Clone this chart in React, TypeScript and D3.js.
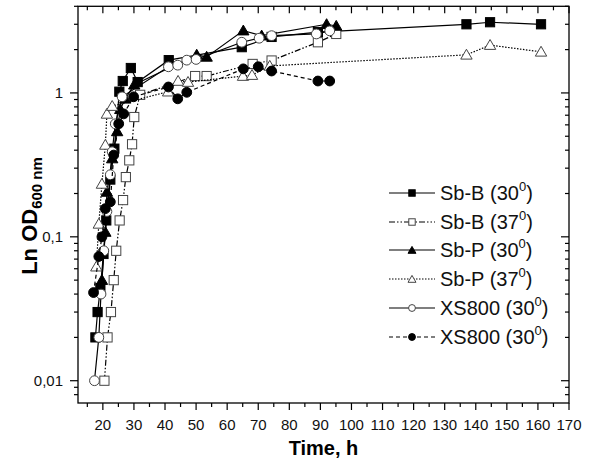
import * as d3 from "d3";

// Time, h
const sbB30T = [17.6, 18.3, 19.2, 20.2, 21.1, 22.4, 23.7, 25.3, 26.4, 29.0, 31.2, 41.2, 64.7, 74.3, 89.2, 137, 144.6, 161];
const sbB30V = [0.02, 0.03, 0.044, 0.076, 0.13, 0.25, 0.41, 1.02, 1.21, 1.49, 1.19, 1.69, 2.08, 2.45, 2.65, 3.0, 3.1, 3.0];

const sbB37T = [20.5, 21.5, 22.6, 23.5, 24.3, 25.4, 26.5, 27.4, 28.5, 29.4, 30.1, 32.0, 49.7, 53.4, 68.2, 74.3, 89.2, 95.1];
const sbB37V = [0.01, 0.02, 0.03, 0.05, 0.08, 0.13, 0.18, 0.26, 0.34, 0.44, 0.68, 0.97, 1.31, 1.31, 1.59, 1.68, 2.25, 2.57];

const sbP30T = [19.7, 20.8, 21.3, 23.0, 24.6, 25.6, 27.2, 30.1, 50.2, 53.4, 65.2, 71.1, 92.0, 95.1];
const sbP30V = [0.05, 0.108, 0.205, 0.35, 0.54, 0.77, 0.91, 1.14, 1.84, 1.78, 2.71, 2.5, 3.0, 2.92];

const sbP37T = [17.9, 18.7, 19.7, 20.8, 21.3, 23.0, 41.0, 44.2, 47.4, 65.1, 68.0, 73.7, 137, 144.6, 161];
const sbP37V = [0.062, 0.123, 0.233, 0.435, 0.715, 0.81, 1.02, 1.21, 1.19, 1.31, 1.33, 1.54, 1.84, 2.15, 1.93];

const xsOpenT = [17.3, 18.7, 19.4, 20.3, 21.3, 22.4, 23.0, 24.0, 26.2, 41.1, 44.1, 47.0, 50.0, 64.7, 70.3, 74.3, 88.7, 93.0];
const xsOpenV = [0.01, 0.02, 0.04, 0.08, 0.15, 0.27, 0.39, 0.61, 0.94, 1.52, 1.56, 1.69, 1.71, 2.25, 2.4, 2.5, 2.57, 2.7];

const xsFillT = [17.0, 18.7, 19.7, 20.8, 22.4, 23.5, 25.1, 26.7, 29.9, 41.1, 44.1, 47.0, 65.2, 70.0, 74.3, 89.2, 93.0];
const xsFillV = [0.041, 0.073, 0.1, 0.157, 0.175, 0.37, 0.61, 0.715, 0.94, 1.1, 0.91, 1.01, 1.47, 1.52, 1.42, 1.21, 1.21];

const xMajor = d3.range(20, 171, 10);
const xMinor = d3.range(15, 170, 10);
const yMajor = [0.01, 0.1, 1];
const yMajorLabels = ["0,01", "0,1", "1"];
const yMinor = [0.008, 0.009, 0.02, 0.03, 0.04, 0.05, 0.06, 0.07, 0.08, 0.09,
  0.2, 0.3, 0.4, 0.5, 0.6, 0.7, 0.8, 0.9, 2, 3, 4];

const legendNames = ["Sb-B (30", "Sb-B (37", "Sb-P (30", "Sb-P (37", "XS800 (30", "XS800 (30"];

const series = [
  { t: sbB30T, v: sbB30V, marker: "square", fill: "#000", dash: null },
  { t: sbB37T, v: sbB37V, marker: "square", fill: "#fff", dash: "6,2,1.5,2,1.5,2" },
  { t: sbP30T, v: sbP30V, marker: "triangle", fill: "#000", dash: null },
  { t: sbP37T, v: sbP37V, marker: "triangle", fill: "#fff", dash: "1.5,1.5" },
  { t: xsOpenT, v: xsOpenV, marker: "circle", fill: "#fff", dash: null },
  { t: xsFillT, v: xsFillV, marker: "circle", fill: "#000", dash: "4,3" },
];

const FONT = "'Liberation Sans', Arial, sans-serif";

function Marker({ kind, x, y, fill, s = 1 }: { kind: string; x: number; y: number; fill: string; s?: number }) {
  const stroke = fill === "#000" ? "#000" : "#444";
  if (kind === "square") {
    const h = 4.6 * s;
    return <rect x={x - h} y={y - h} width={2 * h} height={2 * h} fill={fill} stroke={stroke} strokeWidth={1} />;
  }
  if (kind === "triangle") {
    const path = d3.symbol(d3.symbolTriangle, 56 * s * s)() as string;
    return <path d={path} transform={`translate(${x},${y + 1})`} fill={fill} stroke={stroke} strokeWidth={1} />;
  }
  return <circle cx={x} cy={y} r={4.9 * s} fill={fill} stroke={stroke} strokeWidth={1} />;
}

export default function App() {
  const left = 78, right = 569, top = 6.3, bottom = 403;
  const x = d3.scaleLinear().domain([12, 170]).range([left, right]);
  const y = d3.scaleLog().domain([0.007, 4]).range([bottom, top]);

  const line = d3.line<[number, number]>().x((d) => x(d[0])).y((d) => y(d[1]));

  const legendY = [193, 222, 250, 279, 308, 337];

  return (
    <svg width={591} height={462} style={{ position: "absolute", left: 0, top: 0, fontFamily: FONT }}>
      <rect width={591} height={462} fill="#fff" />

      {/* series */}
      {series.map((s, i) => {
        const pts = s.t.map((t, j) => [t, s.v[j]] as [number, number]);
        return (
          <g key={i}>
            <path d={line(pts) as string} fill="none" stroke="#000" strokeWidth={1.2}
              strokeDasharray={s.dash ?? undefined} />
            {pts.map((p, j) => (
              <Marker key={j} kind={s.marker} x={x(p[0])} y={y(p[1])} fill={s.fill} />
            ))}
          </g>
        );
      })}

      {/* frame */}
      <rect x={left} y={top} width={right - left} height={bottom - top} fill="none" stroke="#000" strokeWidth={1.3} />

      {/* x ticks */}
      {xMajor.map((t) => (
        <g key={"xm" + t}>
          <line x1={x(t)} x2={x(t)} y1={bottom} y2={bottom + 7} stroke="#000" strokeWidth={1.2} />
          <line x1={x(t)} x2={x(t)} y1={top} y2={top + 7} stroke="#000" strokeWidth={1.2} />
          <text x={x(t)} y={430} fontSize={15} textAnchor="middle" fill="#111">{t}</text>
        </g>
      ))}
      {xMinor.map((t) => (
        <g key={"xn" + t}>
          <line x1={x(t)} x2={x(t)} y1={bottom} y2={bottom + 4} stroke="#000" strokeWidth={1.2} />
          <line x1={x(t)} x2={x(t)} y1={top} y2={top + 4} stroke="#000" strokeWidth={1.2} />
        </g>
      ))}

      {/* y ticks */}
      {yMajor.map((v, i) => (
        <g key={"ym" + v}>
          <line x1={left - 8} x2={left} y1={y(v)} y2={y(v)} stroke="#000" strokeWidth={1.2} />
          <line x1={right - 8} x2={right} y1={y(v)} y2={y(v)} stroke="#000" strokeWidth={1.2} />
          <text x={63} y={y(v) + 5.5} fontSize={15} textAnchor="end" fill="#111">{yMajorLabels[i]}</text>
        </g>
      ))}
      {yMinor.map((v) => (
        <g key={"yn" + v}>
          <line x1={left - 4} x2={left} y1={y(v)} y2={y(v)} stroke="#000" strokeWidth={1.2} />
          <line x1={right - 4} x2={right} y1={y(v)} y2={y(v)} stroke="#000" strokeWidth={1.2} />
        </g>
      ))}

      {/* axis titles */}
      <text x={(left + right) / 2} y={455} fontSize={20} fontWeight="bold" textAnchor="middle">Time, h</text>
      <text transform="translate(37,216) rotate(-90)" fontSize={22} fontWeight="bold" textAnchor="middle">
        Ln OD<tspan fontSize={15} dy={5}>600 nm</tspan>
      </text>

      {/* legend */}
      {series.map((s, i) => (
        <g key={"lg" + i}>
          <line x1={389} x2={435} y1={legendY[i]} y2={legendY[i]} stroke="#000" strokeWidth={1.2}
            strokeDasharray={s.dash ?? undefined} />
          <Marker kind={s.marker} x={412} y={legendY[i]} fill={s.fill} s={0.7} />
          <text x={440} y={legendY[i] + 7} fontSize={20} fill="#111">
            {legendNames[i]}
            <tspan fontSize={13} dy={-9}>0</tspan>
            <tspan dy={9}>)</tspan>
          </text>
        </g>
      ))}
    </svg>
  );
}
